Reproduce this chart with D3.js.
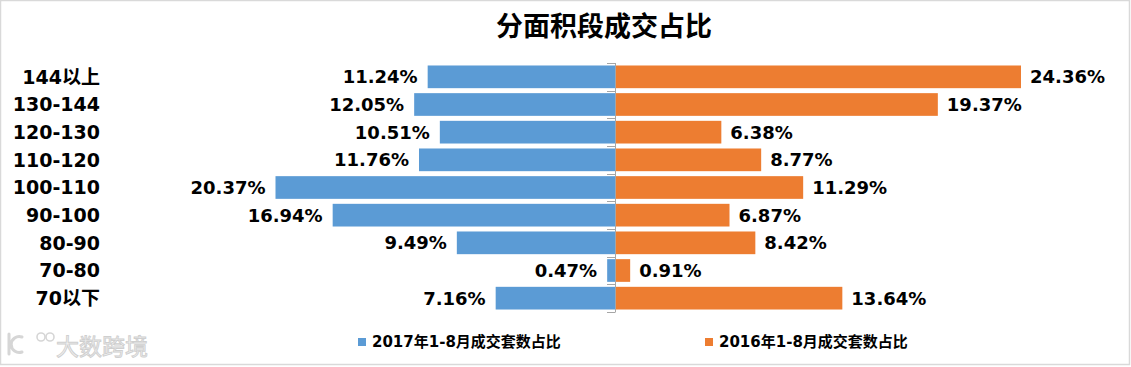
<!DOCTYPE html>
<html><head><meta charset="utf-8">
<script src="https://cdn.jsdelivr.net/npm/d3@7"></script>
<style>
html,body{margin:0;padding:0;background:#fff;}
svg{display:block;}
text{font-family:"DejaVu Sans","Noto Sans CJK SC",sans-serif;}
</style></head>
<body>
<svg id="c" width="1131" height="367"></svg>
<script>
const categories = ["144以上","130-144","120-130","110-120","100-110","90-100","80-90","70-80","70以下"];
const series2017 = [11.24,12.05,10.51,11.76,20.37,16.94,9.49,0.47,7.16];
const series2016 = [24.36,19.37,6.38,8.77,11.29,6.87,8.42,0.91,13.64];
const seriesNames = ["2017年1-8月成交套数占比","2016年1-8月成交套数占比"];
const colors = ["#5b9bd5","#ed7d31"];
const title = "分面积段成交占比";

const svg = d3.select("#c");
svg.append("rect").attr("x",0.5).attr("y",0.5).attr("width",1129).attr("height",364)
  .attr("fill","#fff").attr("stroke","#d9d9d9").attr("stroke-width",1.5);

const x = d3.scaleLinear().domain([-30,30]).range([115,1115]);
const y = d3.scaleBand().domain(categories).range([63,312]).paddingInner(0.18).paddingOuter(0.09);

// title
svg.append("text").attr("x",604).attr("y",36).attr("text-anchor","middle")
  .attr("font-size",27).attr("font-weight","bold").attr("fill","#000")
  .style("font-family","'Noto Sans CJK SC',sans-serif").text(title);

// bars
const g = svg.append("g");
g.selectAll(".b17").data(categories).join("rect")
  .attr("x",(d,i)=>x(-series2017[i])).attr("y",d=>y(d))
  .attr("width",(d,i)=>x(0)-x(-series2017[i])).attr("height",y.bandwidth())
  .attr("fill",colors[0]);
g.selectAll(".b16").data(categories).join("rect")
  .attr("x",x(0)).attr("y",d=>y(d))
  .attr("width",(d,i)=>x(series2016[i])-x(0)).attr("height",y.bandwidth())
  .attr("fill",colors[1]);

// axis
const axisG = svg.append("g");
axisG.append("line").attr("x1",x(0)+0.5).attr("x2",x(0)+0.5).attr("y1",63).attr("y2",312)
  .attr("stroke","#a6a6a6").attr("stroke-width",1);
d3.range(categories.length+1).forEach(k=>{
  const yy = Math.round(63 + k*(249/categories.length))+0.5;
  axisG.append("line").attr("x1",x(0)-8).attr("x2",x(0)+0.5).attr("y1",yy).attr("y2",yy)
    .attr("stroke","#a6a6a6").attr("stroke-width",1);
});

// category labels
svg.selectAll(".cat").data(categories).join("text")
  .attr("x",100).attr("y",d=>y(d)+y.bandwidth()/2).attr("dy","0.36em")
  .attr("text-anchor","end").attr("font-size",19).attr("font-weight","bold").attr("fill","#000")
  .text(d=>d);

// value labels
const fmt = v => v.toFixed(2)+"%";
svg.selectAll(".l17").data(categories).join("text")
  .attr("x",(d,i)=>x(-series2017[i])-10).attr("y",d=>y(d)+y.bandwidth()/2).attr("dy","0.36em")
  .attr("text-anchor","end").attr("font-size",18).attr("font-weight","bold").attr("fill","#000")
  .text((d,i)=>fmt(series2017[i]));
svg.selectAll(".l16").data(categories).join("text")
  .attr("x",(d,i)=>x(series2016[i])+9).attr("y",d=>y(d)+y.bandwidth()/2).attr("dy","0.36em")
  .attr("text-anchor","start").attr("font-size",18).attr("font-weight","bold").attr("fill","#000")
  .text((d,i)=>fmt(series2016[i]));

// legend
const legX = [358,705];
seriesNames.forEach((n,i)=>{
  svg.append("rect").attr("x",legX[i]).attr("y",338).attr("width",8).attr("height",8).attr("fill",colors[i]);
  svg.append("text").attr("x",legX[i]+14).attr("y",342).attr("dy","0.36em")
    .attr("font-size",15).attr("font-weight","bold").attr("fill","#000").text(n);
});

// watermark
const wm = svg.append("g");
wm.append("path").attr("d","M9,334 L9,354 M22,337 A8,8 0 1 0 22,352")
  .attr("fill","none").attr("stroke","#d6d6d6").attr("stroke-width",3).attr("stroke-linecap","round");
wm.append("circle").attr("cx",41).attr("cy",337).attr("r",4).attr("fill","none").attr("stroke","#d6d6d6").attr("stroke-width",1.6);
wm.append("circle").attr("cx",50).attr("cy",337).attr("r",4).attr("fill","none").attr("stroke","#d6d6d6").attr("stroke-width",1.6);
wm.append("text").attr("x",56).attr("y",355).attr("font-size",23).attr("fill","#f2f2f2")
  .attr("stroke","#cfcfcf").attr("stroke-width",0.9)
  .style("font-family","'Noto Sans CJK SC',sans-serif").text("大数跨境");
</script>
</body></html>
